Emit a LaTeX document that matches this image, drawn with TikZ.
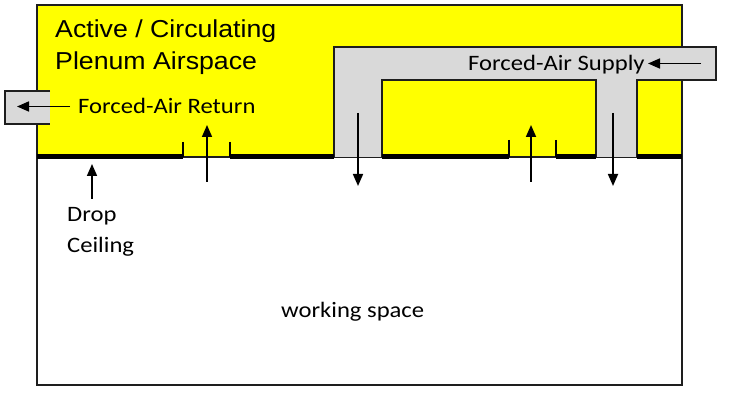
\documentclass[tikz,border=0pt]{standalone}
\usepackage{fontspec}
\setmainfont{Liberation Sans}
\newfontfamily\calfont{Carlito}
\usetikzlibrary{arrows.meta}
\definecolor{plenum}{RGB}{255,255,0}
\definecolor{duct}{RGB}{217,217,217}
\definecolor{edge}{RGB}{30,30,30}
\tikzset{
  boxline/.style={draw=edge,line width=1.8pt},
  ceil/.style={draw=black,line width=5pt},
  tick/.style={draw=black,line width=1.5pt},
  flow/.style={draw=black,line width=1.7pt,-{Triangle[length=12pt,width=10pt]}},
  title/.style={anchor=base west,inner sep=0pt,font=\fontsize{24.5}{29}\selectfont},
  lbl/.style={anchor=base west,inner sep=0pt,font=\calfont\fontsize{22}{27}\selectfont}
}
\begin{document}
\begin{tikzpicture}[x=1pt,y=-1pt]
\useasboundingbox (0,0) rectangle (743,403);
% rooms
\path[fill=white,boxline] (37,5) rectangle (682,385);
\path[fill=plenum,boxline] (37,5) rectangle (682,157);
% supply duct
\fill[duct] (334,157) -- (334,47) -- (716,47) -- (716,80) -- (637,80) -- (637,157)
  -- (596,157) -- (596,80) -- (382,80) -- (382,157) -- cycle;
\draw[boxline] (334,157) -- (334,47) -- (716,47) -- (716,80) -- (637,80) -- (637,157);
\draw[boxline] (596,157) -- (596,80) -- (382,80) -- (382,157);
% return duct
\fill[duct] (5,91) rectangle (50,124);
\draw[boxline] (50,91) -- (5,91) -- (5,124) -- (50,124);
% drop ceiling
\draw[ceil] (37,157) -- (183,157);
\draw[ceil] (230,157) -- (334,157);
\draw[ceil] (382,157) -- (509,157);
\draw[ceil] (556,157) -- (596,157);
\draw[ceil] (637,157) -- (682,157);
\draw[tick] (183,142) -- (183,157);
\draw[tick] (230,142) -- (230,157);
\draw[tick] (509,140) -- (509,157);
\draw[tick] (556,140) -- (556,157);
% texts
\node[title] (t1) at (55,38) {\scalebox{1.09}[1]{Active / Circulating}};
\node[title] (t2) at (55,69.5) {\scalebox{1.09}[1]{Plenum Airspace}};
\node[lbl] (ret) at (78,114) {\scalebox{1.12}[1]{Forced-Air Return}};
\node[lbl] (sup) at (468,71) {\scalebox{1.12}[1]{Forced-Air Supply}};
\node[lbl] (drop) at (67,222) {\scalebox{1.12}[1]{Drop}};
\node[lbl] (ceiling) at (67,252) {\scalebox{1.12}[1]{Ceiling}};
\node[lbl] (work) at (281,317) {\scalebox{1.12}[1]{working space}};
% arrow coordinates
\coordinate (rA) at (70,106.5);  \coordinate (rB) at (17,106.5);
\coordinate (sA) at (701,63.5);  \coordinate (sB) at (648,63.5);
\coordinate (dA) at (92,199);    \coordinate (dB) at (92,164);
\coordinate (g1A) at (207,182);  \coordinate (g1B) at (207,125);
\coordinate (g2A) at (531,182);  \coordinate (g2B) at (531,125);
\coordinate (p1A) at (358,113);  \coordinate (p1B) at (358,186);
\coordinate (p2A) at (613,113);  \coordinate (p2B) at (613,186);
\draw[flow] (rA) -- (rB);
\draw[flow] (sA) -- (sB);
\draw[flow] (dA) -- (dB);
\draw[flow] (g1A) -- (g1B);
\draw[flow] (g2A) -- (g2B);
\draw[flow] (p1A) -- (p1B);
\draw[flow] (p2A) -- (p2B);
\end{tikzpicture}
\end{document}
